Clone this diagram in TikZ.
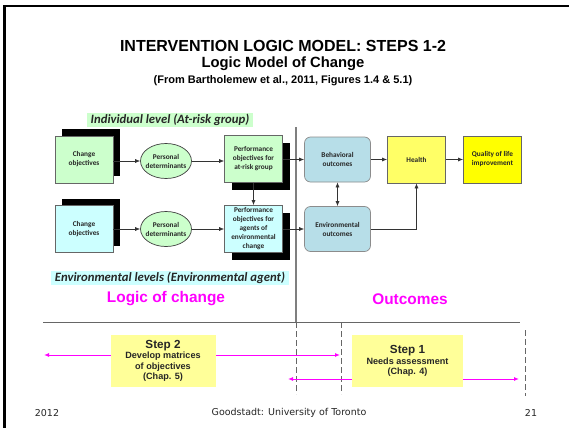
\documentclass[tikz,border=0pt]{standalone}
\usepackage{fontspec}
\setmainfont{Liberation Sans}
\newfontfamily\calib{Carlito}
\newfontfamily\verd{DejaVu Sans}
\usetikzlibrary{arrows.meta,shapes.geometric,shadows}
\definecolor{lgreen}{HTML}{CCFFCC}
\definecolor{lcyan}{HTML}{CCFFFF}
\definecolor{lblue}{HTML}{B7DEE8}
\definecolor{hyellow}{HTML}{FFFF66}
\definecolor{qyellow}{HTML}{FFFF00}
\definecolor{syellow}{HTML}{FFFF99}
\definecolor{mag}{HTML}{FF00FF}
\definecolor{lgray}{HTML}{7F7F7F}
\tikzset{
  bfont/.style={font=\calib\bfseries\fontsize{7.3}{9}\selectfont, text=black!85},
  box/.style={draw=black!60, line width=0.7pt, minimum width=58pt, minimum height=47pt,
    align=center, inner sep=0pt, bfont},
  shup/.style={drop shadow={shadow xshift=7pt, shadow yshift=7pt, fill=black, opacity=1}},
  shdown/.style={drop shadow={shadow xshift=7pt, shadow yshift=-7pt, fill=black, opacity=1}},
  ell/.style={ellipse, draw=black!75, line width=0.7pt, fill=lgreen, minimum width=51pt,
    minimum height=35pt, inner xsep=-6pt, inner ysep=0pt, align=center, bfont},
  rbox/.style={rounded corners=6pt, draw=black!45, line width=0.7pt, fill=lblue, minimum width=66pt,
    minimum height=45pt, align=center, bfont},
  arr/.style={-{Latex[length=5pt,width=4pt]}, line width=0.6pt, draw=black!80},
  darr/.style={{Latex[length=5pt,width=4pt]}-{Latex[length=5pt,width=4pt]}, line width=0.6pt, draw=black!80},
  marr/.style={{Latex[length=5pt,width=4pt]}-{Latex[length=5pt,width=4pt]}, line width=1pt, draw=mag},
  hilite/.style={inner xsep=4pt, inner ysep=1pt, font=\calib\bfseries\itshape\fontsize{12.7}{14}\selectfont, text=black!85},
  stepbox/.style={fill=syellow, minimum width=105pt, minimum height=52pt, align=center, inner sep=1pt,
    font=\bfseries\fontsize{9.1}{10.5}\selectfont, text=black!85},
  dline/.style={draw=black!60, line width=0.8pt, dash pattern=on 6pt off 3pt},
  foot/.style={font=\verd\fontsize{9.5}{11}\selectfont, text=black!85},
  big/.style={font=\bfseries\fontsize{15.4}{17}\selectfont, text=mag}
}
\begin{document}
\begin{tikzpicture}[x=1pt,y=-1pt]
\useasboundingbox (0,0) rectangle (569,428);
\fill[white] (0,0) rectangle (569,428);
\fill[black] (3,5) rectangle (569,7.5);
\fill[black] (2.5,5) rectangle (6,428);

% titles
\node[font=\bfseries\fontsize{16}{18}\selectfont] (t1) at (283,46) {INTERVENTION LOGIC MODEL: STEPS 1-2};
\node[font=\bfseries\fontsize{14.8}{16}\selectfont] (t2) at (283,64) {Logic Model of Change};
\node[font=\bfseries\fontsize{11}{13}\selectfont] (t3) at (283,81) {(From Bartholemew et al., 2011, Figures 1.4 \& 5.1)};

% level labels
\node[hilite, fill=lgreen] (ind) at (170,120) {Individual level (At-risk group)};
\node[hilite, fill=lcyan] (env) at (170,278) {Environmental levels (Environmental agent)};

% divider lines
\coordinate (vt) at (296,127);
\coordinate (vm) at (296,322);
\coordinate (vb) at (296,394);
\coordinate (hl) at (43,322);
\coordinate (hr) at (520,322);
\coordinate (d1t) at (341,322);
\coordinate (d1b) at (341,394);
\coordinate (d2t) at (525,330);
\coordinate (d2b) at (525,396);
\draw[lgray, line width=1.1pt] (vt) -- (vm);
\draw[dline] (vm) -- (vb);
\draw[dline] (d1t) -- (d1b);
\draw[dline] (d2t) -- (d2b);
\draw[black!60, line width=1pt] (hl) -- (hr);

% top row
\node[box, fill=lgreen, shup] (co1) at (84,159.5) {Change\\objectives};
\node[ell] (pd1) at (166,161) {Personal\\determinants};
\node[box, fill=lgreen, shdown] (po1) at (253.5,159) {Performance\\objectives for\\at-risk group};
% bottom row
\node[box, fill=lcyan, shup] (co2) at (84,229) {Change\\objectives};
\node[ell] (pd2) at (166,229) {Personal\\determinants};
\node[box, fill=lcyan, shdown] (po2) at (253.5,229) {Performance\\objectives for\\agents of\\environmental\\change};
% outcomes
\node[rbox] (bo) at (337.5,159.5) {Behavioral\\outcomes};
\node[rbox] (eo) at (337.5,229) {Environmental\\outcomes};
\node[box, fill=hyellow] (he) at (416.5,159.5) {Health};
\node[box, fill=qyellow] (ql) at (492.5,159.5) {Quality of life\\improvement};

\draw[arr] (co1.east |- pd1) -- (pd1);
\draw[arr] (pd1) -- (po1.west |- pd1);
\draw[arr] (po1.east |- bo) -- (bo);
\draw[arr] (bo) -- (he);
\draw[arr] (he) -- (ql);
\draw[darr] (bo) -- (eo);
\draw[arr] (eo.east) -| (he.south);
\draw[arr] (po1.south) -- (po2.north);
\draw[arr] (co2) -- (co2 -| pd2.west);
\draw[arr] (pd2.east |- po2) -- (po2);
\draw[arr] (po2) -- (eo);

% big labels
\node[big] (loc) at (166,299) {Logic of change};
\node[big] (out) at (410,299) {Outcomes};

% steps
\coordinate (m1l) at (44,355);
\coordinate (m1r) at (340,355);
\coordinate (m2l) at (288,379);
\coordinate (m2r) at (519,379);
\draw[marr] (m1l) -- (m1r);
\draw[marr] (m2l) -- (m2r);
\node[stepbox] (s2) at (163,361) {{\fontsize{11.7}{13}\selectfont Step 2}\\Develop matrices\\of objectives\\(Chap. 5)};
\node[stepbox, minimum width=111pt] (s1) at (407.5,361) {{\fontsize{11.7}{13}\selectfont Step 1}\\Needs assessment\\(Chap. 4)};

% footer
\node[foot] (f1) at (47,413) {2012};
\node[foot] (f2) at (289,413) {Goodstadt: University of Toronto};
\node[foot] (f3) at (531,413) {21};
\end{tikzpicture}
\end{document}
